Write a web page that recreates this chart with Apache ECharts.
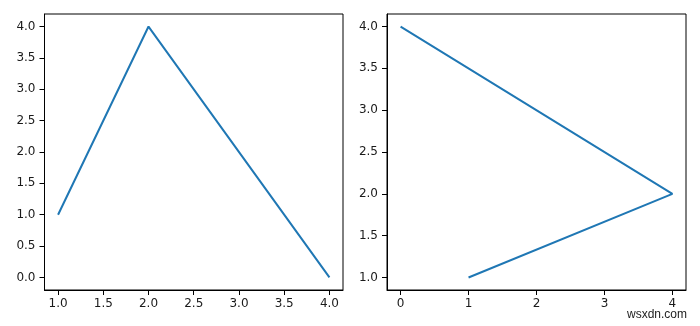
<!DOCTYPE html>
<html>
<head>
<meta charset="utf-8">
<script src="https://cdn.jsdelivr.net/npm/echarts@6/dist/echarts.min.js"></script>
<style>html,body{margin:0;padding:0;background:#fff;}#c{width:700px;height:326px;}</style>
</head>
<body>
<div id="c"></div>
<script>
var leftX = [1, 2, 4];
var leftY = [1, 4, 0];
var rightX = [1, 4, 0];
var rightY = [1, 2, 4];
var halfTicks1to4 = [1.0, 1.5, 2.0, 2.5, 3.0, 3.5, 4.0];
var halfTicks0to4 = [0.0, 0.5, 1.0, 1.5, 2.0, 2.5, 3.0, 3.5, 4.0];
var intTicks0to4 = [0, 1, 2, 3, 4];
var watermark = 'wsxdn.com';

function zip(a, b) { return a.map(function (v, i) { return [v, b[i]]; }); }

var labelFont = { fontFamily: 'DejaVu Sans', fontSize: 12, color: '#1a1a1a' };

function axis(type, gridIndex, min, max, ticks, fmt) {
  return {
    type: 'value', gridIndex: gridIndex, min: min, max: max,
    splitLine: { show: false },
    axisLine: { show: true, onZero: false, lineStyle: { color: '#000', width: 1 } },
    axisTick: { show: true, length: 5, inside: false, customValues: ticks, lineStyle: { color: '#000', width: 1 } },
    axisLabel: Object.assign({ customValues: ticks, margin: type === 'x' ? 8 : 9, formatter: fmt }, labelFont)
  };
}
var f1 = function (v) { return Number(v).toFixed(1); };
var f0 = function (v) { return String(Math.round(v)); };

var chart = echarts.init(document.getElementById('c'), null, { renderer: 'canvas' });
chart.setOption({
  animation: false,
  backgroundColor: '#fff',
  grid: [
    { left: 44.5, top: 14, width: 298.5, height: 276, show: true, borderColor: '#000', borderWidth: 1 },
    { left: 387, top: 14, width: 299, height: 276, show: true, borderColor: '#000', borderWidth: 1 }
  ],
  xAxis: [
    axis('x', 0, 0.85, 4.15, halfTicks1to4, f1),
    axis('x', 1, -0.2, 4.2, intTicks0to4, f0)
  ],
  yAxis: [
    axis('y', 0, -0.2, 4.2, halfTicks0to4, f1),
    axis('y', 1, 0.85, 4.15, halfTicks1to4, f1)
  ],
  series: [
    { type: 'line', xAxisIndex: 0, yAxisIndex: 0, data: zip(leftX, leftY), showSymbol: false, symbol: 'none',
      lineStyle: { color: '#1f77b4', width: 2 } },
    { type: 'line', xAxisIndex: 1, yAxisIndex: 1, data: zip(rightX, rightY), showSymbol: false, symbol: 'none',
      lineStyle: { color: '#1f77b4', width: 2 } }
  ],
  graphic: [
    { type: 'text', left: 627, top: 309, style: { text: watermark, fontFamily: 'Liberation Sans', fontSize: 12, fill: '#222' } }
  ]
});
</script>
</body>
</html>
